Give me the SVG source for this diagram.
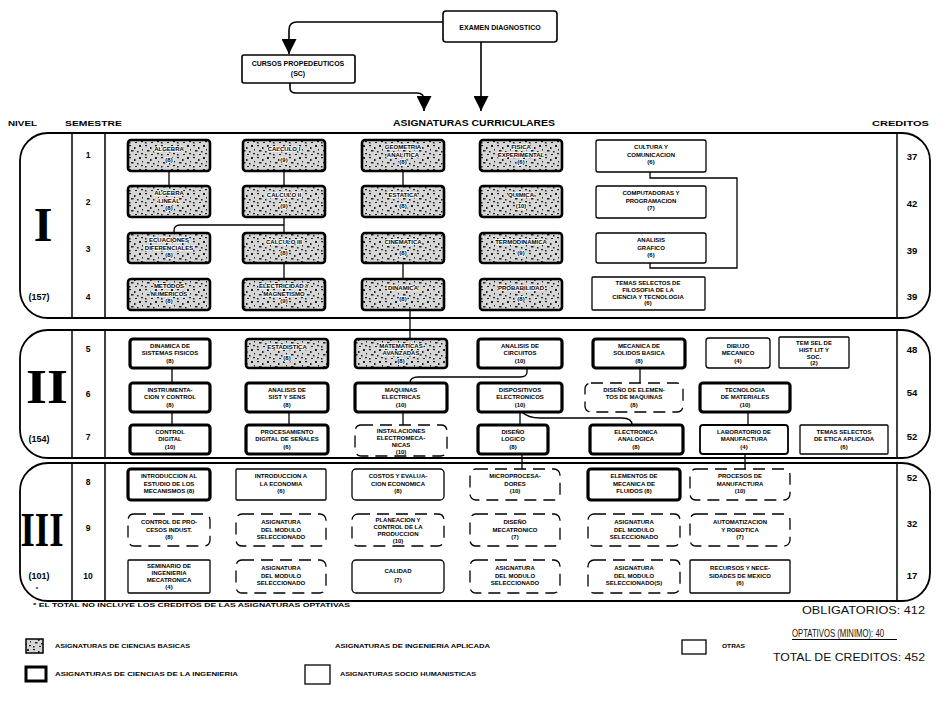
<svg xmlns="http://www.w3.org/2000/svg" width="938" height="701" viewBox="0 0 938 701">
<defs>
<style>
.t{font-family:"Liberation Sans",Arial,sans-serif;font-weight:bold;font-size:6px;fill:#000;text-anchor:middle}
.b .t{stroke:#fff;stroke-width:1.6px;paint-order:stroke;stroke-linejoin:round}
.h{font-family:"Liberation Sans",Arial,sans-serif;font-weight:bold;fill:#000}
.num{font-family:"Liberation Sans",Arial,sans-serif;font-weight:bold;font-size:8.5px;fill:#000;text-anchor:middle}
.rom{font-family:"Liberation Serif","Times New Roman",serif;font-weight:bold;font-size:48px;fill:#000;text-anchor:middle}
.tot{font-family:"Liberation Sans",Arial,sans-serif;font-size:11px;fill:#111}
.leg{font-family:"Liberation Sans",Arial,sans-serif;font-weight:bold;font-size:5.5px;fill:#000}
.basic{fill:url(#spk);stroke:#000;stroke-width:2.6}
.ing{fill:#fff;stroke:#000;stroke-width:3.2}
.apl{fill:#fff;stroke:#000;stroke-width:1.3;stroke-dasharray:12 7}
.otr{fill:#fff;stroke:#000;stroke-width:1.3}
.panel{fill:none;stroke:#000;stroke-width:1.8}
.div{stroke:#000;stroke-width:1.5}
.c{fill:none;stroke:#000;stroke-width:1.3}
</style>
<pattern id="spk" width="16" height="12" patternUnits="userSpaceOnUse">
<rect width="16" height="12" fill="#d6d6d6"/>
<g fill="#222">
<rect x="1" y="1" width="2" height="1.2"/>
<rect x="6" y="3" width="1.5" height="2"/>
<rect x="11" y="1" width="2" height="2"/>
<rect x="3" y="6" width="2.5" height="1.5"/>
<rect x="9" y="7" width="1.5" height="1.5"/>
<rect x="13" y="9" width="2" height="1.2"/>
<rect x="1" y="10" width="1.5" height="1.5"/>
<rect x="7" y="10" width="2" height="1"/>
<rect x="14" y="5" width="1" height="1.5"/>
</g>
</pattern>
<marker id="ah" viewBox="0 0 10 10" refX="10" refY="5" markerWidth="19" markerHeight="15" markerUnits="userSpaceOnUse" orient="auto">
<path d="M0,0 L10,5 L0,10 Z" fill="#000"/>
</marker>
</defs>
<rect width="938" height="701" fill="#fff"/>

<!-- header -->
<g id="examen-diagnostico">
<rect class="otr" x="443" y="11" width="114" height="31" rx="3" style="stroke-width:1.6"/>
<text class="t" x="500" y="29.5" style="font-size:7px">EXAMEN DIAGNOSTICO</text>
</g>
<g id="cursos-propedeuticos">
<rect class="otr" x="242" y="55" width="113" height="28" rx="2" style="stroke-width:1.6"/>
<text class="t" x="298" y="66" style="font-size:7px">CURSOS PROPEDEUTICOS<tspan x="298" dy="10">(SC)</tspan></text>
</g>
<text class="h" x="474" y="126" font-size="9" text-anchor="middle" textLength="162" lengthAdjust="spacingAndGlyphs">ASIGNATURAS CURRICULARES</text>
<text class="h" x="8" y="126" font-size="7.5" textLength="29" lengthAdjust="spacingAndGlyphs">NIVEL</text>
<text class="h" x="65" y="126" font-size="7.5" textLength="57" lengthAdjust="spacingAndGlyphs">SEMESTRE</text>
<text class="h" x="872" y="126" font-size="7.5" textLength="57" lengthAdjust="spacingAndGlyphs">CREDITOS</text>

<!-- panels -->
<g id="nivel-I">
<rect class="panel" x="20" y="133" width="910" height="185" rx="28"/>
<line class="div" x1="72" y1="133" x2="72" y2="318"/>
<line class="div" x1="105" y1="133" x2="105" y2="318"/>
<line class="div" x1="897" y1="133" x2="897" y2="318"/>
<text class="rom" x="43" y="241">I</text>
<text class="num" x="39" y="300" style="font-size:9px">(157)</text>
<text class="num" x="88" y="158">1</text><text class="num" x="88" y="205">2</text><text class="num" x="88" y="252">3</text><text class="num" x="88" y="300">4</text>
<text class="num" x="912" y="160" style="font-size:9.5px">37</text><text class="num" x="912" y="207" style="font-size:9.5px">42</text><text class="num" x="912" y="254" style="font-size:9.5px">39</text><text class="num" x="912" y="300" style="font-size:9.5px">39</text>
</g>
<g id="nivel-II">
<rect class="panel" x="20" y="330" width="910" height="128" rx="28"/>
<line class="div" x1="72" y1="330" x2="72" y2="458"/>
<line class="div" x1="105" y1="330" x2="105" y2="458"/>
<line class="div" x1="897" y1="330" x2="897" y2="458"/>
<text class="rom" x="47" y="403" textLength="42" lengthAdjust="spacingAndGlyphs">II</text>
<text class="num" x="39" y="442" style="font-size:9px">(154)</text>
<text class="num" x="88" y="352">5</text><text class="num" x="88" y="397">6</text><text class="num" x="88" y="440">7</text>
<text class="num" x="912" y="353" style="font-size:9.5px">48</text><text class="num" x="912" y="396" style="font-size:9.5px">54</text><text class="num" x="912" y="440" style="font-size:9.5px">52</text>
</g>
<g id="nivel-III">
<rect class="panel" x="20" y="463" width="910" height="138" rx="28"/>
<line class="div" x1="72" y1="463" x2="72" y2="601"/>
<line class="div" x1="105" y1="463" x2="105" y2="601"/>
<line class="div" x1="897" y1="463" x2="897" y2="601"/>
<text class="rom" x="42" y="546" textLength="43" lengthAdjust="spacingAndGlyphs">III</text>
<text class="num" x="39" y="579" style="font-size:9px">(101)</text>
<text class="num" x="37" y="591" style="font-size:6px">*</text>
<text class="num" x="88" y="485">8</text><text class="num" x="88" y="531">9</text><text class="num" x="88" y="579">10</text>
<text class="num" x="912" y="481" style="font-size:9.5px">52</text><text class="num" x="912" y="527" style="font-size:9.5px">32</text><text class="num" x="912" y="579" style="font-size:9.5px">17</text>
</g>

<!-- connectors -->
<g id="connectors">
<path class="c" d="M443,22 H297 Q289,22 289,30 V54" marker-end="url(#ah)" style="stroke-width:1.6"/>
<path class="c" d="M290,83 V88 Q290,93 296,93 H417 Q424,93 424,100 V111" marker-end="url(#ah)" style="stroke-width:1.6"/>
<path class="c" d="M481,42 V111" marker-end="url(#ah)" style="stroke-width:1.6"/>
<path class="c" d="M169,171 V186 M284,171 V186 M403,171 V186"/>
<path class="c" d="M284,217 V233 M284,225 H180 Q174,225 174,231 V233"/>
<path class="c" d="M284,263 V279 M403,263 V279"/>
<path class="c" d="M410,310 V339"/>
<path class="c" d="M650,172 V178 H737 V268 H650 V263"/>
<path class="c" d="M172,368 V383 M172,412 V425 M289,412 V425 M403,412 V425"/>
<path class="c" d="M527,368 V372 Q527,377 520,377 H418 Q410,377 410,383"/>
<path class="c" d="M640,368 V383"/>
<path class="c" d="M520,412 V425 M522,412 Q528,418 540,418 H622 Q632,418 632,425"/>
<path class="c" d="M748,412 V425"/>
<path class="c" d="M522,454 V469 M745,454 V469"/>
</g>

<!-- LEVEL I -->
<g id="algebra" class="b"><rect class="basic" x="128" y="140" width="82" height="31" rx="3"/><text class="t" x="169" y="151">ALGEBRA<tspan x="169" dy="11">(8)</tspan></text></g>
<g id="calculo-1" class="b"><rect class="basic" x="243" y="140" width="82" height="31" rx="3"/><text class="t" x="284" y="151">CALCULO I<tspan x="284" dy="11">(9)</tspan></text></g>
<g id="geometria" class="b"><rect class="basic" x="362" y="140" width="82" height="31" rx="3"/><text class="t" x="403" y="149">GEOMETRIA<tspan x="403" dy="7.5">ANALITICA</tspan><tspan x="403" dy="7.5">(8)</tspan></text></g>
<g id="fisica" class="b"><rect class="basic" x="480" y="140" width="82" height="31" rx="3"/><text class="t" x="521" y="149">FISICA<tspan x="521" dy="7.5">EXPERIMENTAL</tspan><tspan x="521" dy="7.5">(6)</tspan></text></g>
<g id="cultura"><rect class="otr" x="596" y="140" width="110" height="32" rx="2"/><text class="t" x="651" y="149">CULTURA Y<tspan x="651" dy="7.5">COMUNICACION</tspan><tspan x="651" dy="7.5">(6)</tspan></text></g>

<g id="algebra-lineal" class="b"><rect class="basic" x="128" y="186" width="82" height="31" rx="3"/><text class="t" x="169" y="195">ALGEBRA<tspan x="169" dy="7.5">LINEAL</tspan><tspan x="169" dy="7.5">(8)</tspan></text></g>
<g id="calculo-2" class="b"><rect class="basic" x="243" y="186" width="82" height="31" rx="3"/><text class="t" x="284" y="197">CALCULO II<tspan x="284" dy="11">(9)</tspan></text></g>
<g id="estatica" class="b"><rect class="basic" x="362" y="186" width="82" height="31" rx="3"/><text class="t" x="403" y="197">ESTATICA<tspan x="403" dy="11">(8)</tspan></text></g>
<g id="quimica" class="b"><rect class="basic" x="480" y="186" width="82" height="31" rx="3"/><text class="t" x="521" y="197">QUIMICA<tspan x="521" dy="11">(10)</tspan></text></g>
<g id="computadoras"><rect class="otr" x="596" y="186" width="110" height="32" rx="2"/><text class="t" x="651" y="195">COMPUTADORAS Y<tspan x="651" dy="7.5">PROGRAMACION</tspan><tspan x="651" dy="7.5">(7)</tspan></text></g>

<g id="ecuaciones" class="b"><rect class="basic" x="128" y="233" width="82" height="30" rx="3"/><text class="t" x="169" y="242">ECUACIONES<tspan x="169" dy="7.5">DIFERENCIALES</tspan><tspan x="169" dy="7.5">(8)</tspan></text></g>
<g id="calculo-3" class="b"><rect class="basic" x="243" y="233" width="82" height="30" rx="3"/><text class="t" x="284" y="244">CALCULO III<tspan x="284" dy="11">(8)</tspan></text></g>
<g id="cinematica" class="b"><rect class="basic" x="362" y="233" width="82" height="30" rx="3"/><text class="t" x="403" y="244">CINEMATICA<tspan x="403" dy="11">(8)</tspan></text></g>
<g id="termodinamica" class="b"><rect class="basic" x="480" y="233" width="82" height="30" rx="3"/><text class="t" x="521" y="244">TERMODINAMICA<tspan x="521" dy="11">(9)</tspan></text></g>
<g id="analisis-grafico"><rect class="otr" x="596" y="233" width="110" height="30" rx="2"/><text class="t" x="651" y="242">ANALISIS<tspan x="651" dy="7.5">GRAFICO</tspan><tspan x="651" dy="7.5">(6)</tspan></text></g>

<g id="metodos" class="b"><rect class="basic" x="128" y="279" width="82" height="31" rx="3"/><text class="t" x="169" y="288">METODOS<tspan x="169" dy="7.5">NUMERICOS</tspan><tspan x="169" dy="7.5">(8)</tspan></text></g>
<g id="electricidad" class="b"><rect class="basic" x="243" y="279" width="82" height="31" rx="3"/><text class="t" x="284" y="288">ELECTRICIDAD Y<tspan x="284" dy="7.5">MAGNETISMO</tspan><tspan x="284" dy="7.5">(9)</tspan></text></g>
<g id="dinamica" class="b"><rect class="basic" x="362" y="279" width="82" height="31" rx="3"/><text class="t" x="403" y="290">DINAMICA<tspan x="403" dy="11">(8)</tspan></text></g>
<g id="probabilidad" class="b"><rect class="basic" x="480" y="279" width="82" height="31" rx="3"/><text class="t" x="521" y="290">PROBABILIDAD<tspan x="521" dy="11">(8)</tspan></text></g>
<g id="temas-filosofia"><rect class="otr" x="592" y="277" width="113" height="33" rx="1"/><text class="t" x="648" y="285">TEMAS SELECTOS DE<tspan x="648" dy="6.8">FILOSOFIA DE LA</tspan><tspan x="648" dy="6.8">CIENCIA Y TECNOLOGIA</tspan><tspan x="648" dy="6.8">(6)</tspan></text></g>

<!-- LEVEL II -->
<g id="dinamica-sistemas"><rect class="ing" x="130" y="339" width="80" height="29" rx="3"/><text class="t" x="170" y="347.5">DINAMICA DE<tspan x="170" dy="7.5">SISTEMAS FISICOS</tspan><tspan x="170" dy="7.5">(8)</tspan></text></g>
<g id="estadistica" class="b"><rect class="basic" x="246" y="339" width="82" height="29" rx="3"/><text class="t" x="287" y="349">ESTADISTICA<tspan x="287" dy="11">(8)</tspan></text></g>
<g id="matematicas-avanzadas" class="b"><rect class="basic" x="355" y="339" width="92" height="29" rx="3"/><text class="t" x="401" y="347.5">MATEMATICAS<tspan x="401" dy="7.5">AVANZADAS</tspan><tspan x="401" dy="7.5">(8)</tspan></text></g>
<g id="analisis-circuitos"><rect class="ing" x="478" y="339" width="84" height="29" rx="3"/><text class="t" x="520" y="347.5">ANALISIS DE<tspan x="520" dy="7.5">CIRCUITOS</tspan><tspan x="520" dy="7.5">(10)</tspan></text></g>
<g id="mecanica-solidos"><rect class="ing" x="593" y="339" width="92" height="29" rx="3"/><text class="t" x="639" y="347.5">MECANICA DE<tspan x="639" dy="7.5">SOLIDOS BASICA</tspan><tspan x="639" dy="7.5">(8)</tspan></text></g>
<g id="dibujo-mecanico"><rect class="otr" x="706" y="338" width="64" height="30" rx="3"/><text class="t" x="738" y="347.5">DIBUJO<tspan x="738" dy="7.5">MECANICO</tspan><tspan x="738" dy="7.5">(4)</tspan></text></g>
<g id="tem-sel-hist"><rect class="otr" x="779" y="337" width="70" height="31" rx="1"/><text class="t" x="814" y="345">TEM SEL DE<tspan x="814" dy="6.8">HIST LIT Y</tspan><tspan x="814" dy="6.8">SOC.</tspan><tspan x="814" dy="6.8">(2)</tspan></text></g>

<g id="instrumentacion"><rect class="ing" x="130" y="383" width="80" height="29" rx="3"/><text class="t" x="170" y="391.5">INSTRUMENTA-<tspan x="170" dy="7.5">CION Y CONTROL</tspan><tspan x="170" dy="7.5">(8)</tspan></text></g>
<g id="analisis-sist"><rect class="ing" x="246" y="383" width="82" height="29" rx="3"/><text class="t" x="287" y="391.5">ANALISIS DE<tspan x="287" dy="7.5">SIST Y SENS</tspan><tspan x="287" dy="7.5">(8)</tspan></text></g>
<g id="maquinas-electricas"><rect class="ing" x="355" y="383" width="92" height="29" rx="3"/><text class="t" x="401" y="391.5">MAQUINAS<tspan x="401" dy="7.5">ELECTRICAS</tspan><tspan x="401" dy="7.5">(10)</tspan></text></g>
<g id="dispositivos"><rect class="ing" x="478" y="383" width="84" height="29" rx="3"/><text class="t" x="520" y="391.5">DISPOSITIVOS<tspan x="520" dy="7.5">ELECTRONICOS</tspan><tspan x="520" dy="7.5">(10)</tspan></text></g>
<g id="diseno-elementos"><rect class="apl" x="585" y="383" width="98" height="29" rx="6"/><text class="t" x="634" y="391.5">DISEÑO DE ELEMEN-<tspan x="634" dy="7.5">TOS DE MAQUINAS</tspan><tspan x="634" dy="7.5">(8)</tspan></text></g>
<g id="tecnologia-materiales"><rect class="ing" x="700" y="383" width="90" height="29" rx="3"/><text class="t" x="745" y="391.5">TECNOLOGIA<tspan x="745" dy="7.5">DE MATERIALES</tspan><tspan x="745" dy="7.5">(10)</tspan></text></g>

<g id="control-digital"><rect class="ing" x="130" y="425" width="80" height="29" rx="3"/><text class="t" x="170" y="433.5">CONTROL<tspan x="170" dy="7.5">DIGITAL</tspan><tspan x="170" dy="7.5">(10)</tspan></text></g>
<g id="procesamiento"><rect class="ing" x="246" y="425" width="82" height="29" rx="3"/><text class="t" x="287" y="433.5">PROCESAMIENTO<tspan x="287" dy="7.5">DIGITAL DE SEÑALES</tspan><tspan x="287" dy="7.5">(6)</tspan></text></g>
<g id="instalaciones"><rect class="apl" x="355" y="425" width="92" height="31" rx="6"/><text class="t" x="401" y="432.5">INSTALACIONES<tspan x="401" dy="7">ELECTROMECA-</tspan><tspan x="401" dy="7">NICAS</tspan><tspan x="401" dy="7">(10)</tspan></text></g>
<g id="diseno-logico"><rect class="ing" x="478" y="425" width="70" height="29" rx="3"/><text class="t" x="513" y="433.5">DISEÑO<tspan x="513" dy="7.5">LOGICO</tspan><tspan x="513" dy="7.5">(8)</tspan></text></g>
<g id="electronica-analogica"><rect class="ing" x="590" y="425" width="93" height="29" rx="3"/><text class="t" x="636" y="433.5">ELECTRONICA<tspan x="636" dy="7.5">ANALOGICA</tspan><tspan x="636" dy="7.5">(8)</tspan></text></g>
<g id="laboratorio-manufactura"><rect class="otr" x="700" y="425" width="88" height="29" rx="3" style="stroke-width:1.8"/><text class="t" x="744" y="433.5">LABORATORIO DE<tspan x="744" dy="7.5">MANUFACTURA</tspan><tspan x="744" dy="7.5">(4)</tspan></text></g>
<g id="temas-etica"><rect class="otr" x="800" y="425" width="88" height="29" rx="1"/><text class="t" x="844" y="433.5">TEMAS SELECTOS<tspan x="844" dy="7.5">DE ETICA APLICADA</tspan><tspan x="844" dy="7.5">(6)</tspan></text></g>

<!-- LEVEL III -->
<g id="intro-mecanismos"><rect class="ing" x="128" y="469" width="82" height="31" rx="3"/><text class="t" x="169" y="478">INTRODUCCION AL<tspan x="169" dy="7.5">ESTUDIO DE LOS</tspan><tspan x="169" dy="7.5">MECANISMOS   (8)</tspan></text></g>
<g id="intro-economia"><rect class="otr" x="236" y="469" width="90" height="31" rx="1"/><text class="t" x="281" y="478">INTRODUCCION A<tspan x="281" dy="7.5">LA ECONOMIA</tspan><tspan x="281" dy="7.5">(6)</tspan></text></g>
<g id="costos"><rect class="otr" x="352" y="469" width="92" height="31" rx="4"/><text class="t" x="398" y="478">COSTOS Y EVALUA-<tspan x="398" dy="7.5">CION ECONOMICA</tspan><tspan x="398" dy="7.5">(8)</tspan></text></g>
<g id="microprocesadores"><rect class="apl" x="470" y="469" width="90" height="31" rx="6"/><text class="t" x="515" y="478">MICROPROCESA-<tspan x="515" dy="7.5">DORES</tspan><tspan x="515" dy="7.5">(10)</tspan></text></g>
<g id="mecanica-fluidos"><rect class="ing" x="588" y="469" width="92" height="31" rx="3"/><text class="t" x="634" y="478">ELEMENTOS DE<tspan x="634" dy="7.5">MECANICA DE</tspan><tspan x="634" dy="7.5">FLUIDOS    (8)</tspan></text></g>
<g id="procesos-manufactura"><rect class="apl" x="690" y="469" width="100" height="31" rx="6"/><text class="t" x="740" y="478">PROCESOS DE<tspan x="740" dy="7.5">MANUFACTURA</tspan><tspan x="740" dy="7.5">(10)</tspan></text></g>

<g id="control-procesos"><rect class="apl" x="128" y="514" width="82" height="32" rx="6"/><text class="t" x="169" y="524">CONTROL DE PRO-<tspan x="169" dy="7.5">CESOS INDUST.</tspan><tspan x="169" dy="7.5">(8)</tspan></text></g>
<g id="modulo-9a"><rect class="apl" x="236" y="514" width="90" height="32" rx="6"/><text class="t" x="281" y="524">ASIGNATURA<tspan x="281" dy="7.5">DEL MODULO</tspan><tspan x="281" dy="7.5">SELECCIONADO</tspan></text></g>
<g id="planeacion"><rect class="apl" x="352" y="514" width="92" height="32" rx="6"/><text class="t" x="398" y="522">PLANEACION Y<tspan x="398" dy="7">CONTROL DE LA</tspan><tspan x="398" dy="7">PRODUCCION</tspan><tspan x="398" dy="7">(10)</tspan></text></g>
<g id="diseno-mecatronico"><rect class="apl" x="470" y="514" width="90" height="32" rx="6"/><text class="t" x="515" y="524">DISEÑO<tspan x="515" dy="7.5">MECATRONICO</tspan><tspan x="515" dy="7.5">(7)</tspan></text></g>
<g id="modulo-9b"><rect class="apl" x="588" y="514" width="92" height="32" rx="6"/><text class="t" x="634" y="524">ASIGNATURA<tspan x="634" dy="7.5">DEL MODULO</tspan><tspan x="634" dy="7.5">SELECCIONADO</tspan></text></g>
<g id="automatizacion"><rect class="apl" x="690" y="514" width="100" height="32" rx="6"/><text class="t" x="740" y="524">AUTOMATIZACION<tspan x="740" dy="7.5">Y ROBOTICA</tspan><tspan x="740" dy="7.5">(7)</tspan></text></g>

<g id="seminario"><rect class="otr" x="128" y="560" width="82" height="33" rx="1"/><text class="t" x="169" y="568">SEMINARIO DE<tspan x="169" dy="7">INGENIERIA</tspan><tspan x="169" dy="7">MECATRONICA</tspan><tspan x="169" dy="7">(4)</tspan></text></g>
<g id="modulo-10a"><rect class="apl" x="236" y="560" width="90" height="33" rx="6"/><text class="t" x="281" y="570">ASIGNATURA<tspan x="281" dy="7.5">DEL MODULO</tspan><tspan x="281" dy="7.5">SELECCIONADO</tspan></text></g>
<g id="calidad"><rect class="otr" x="352" y="560" width="92" height="33" rx="4"/><text class="t" x="398" y="573">CALIDAD<tspan x="398" dy="9">(7)</tspan></text></g>
<g id="modulo-10b"><rect class="apl" x="470" y="560" width="90" height="33" rx="6"/><text class="t" x="515" y="570">ASIGNATURA<tspan x="515" dy="7.5">DEL MODULO</tspan><tspan x="515" dy="7.5">SELECCIONADO</tspan></text></g>
<g id="modulo-10c"><rect class="apl" x="588" y="560" width="92" height="33" rx="6"/><text class="t" x="634" y="570">ASIGNATURA<tspan x="634" dy="7.5">DEL MODULO</tspan><tspan x="634" dy="7.5">SELECCIONADO(S)</tspan></text></g>
<g id="recursos-mexico"><rect class="otr" x="690" y="560" width="100" height="33" rx="1"/><text class="t" x="740" y="570">RECURSOS Y NECE-<tspan x="740" dy="7.5">SIDADES DE MEXICO</tspan><tspan x="740" dy="7.5">(6)</tspan></text></g>

<!-- footer -->
<text class="leg" x="33" y="607" textLength="317" lengthAdjust="spacingAndGlyphs">* EL TOTAL NO INCLUYE LOS CREDITOS DE LAS ASIGNATURAS OPTATIVAS</text>
<text class="tot" x="802" y="614" textLength="123" lengthAdjust="spacingAndGlyphs">OBLIGATORIOS: 412</text>
<text class="tot" x="792" y="637" textLength="92" lengthAdjust="spacingAndGlyphs">OPTATIVOS (MINIMO): 40</text>
<line x1="792" y1="639.5" x2="897" y2="639.5" stroke="#000" stroke-width="1.2"/>
<text class="tot" x="773" y="661" textLength="152" lengthAdjust="spacingAndGlyphs">TOTAL DE CREDITOS: 452</text>

<g id="legend">
<rect x="26" y="639" width="17" height="14" fill="url(#spk)" stroke="#000" stroke-width="1.5"/>
<text class="leg" x="55" y="648" textLength="135" lengthAdjust="spacingAndGlyphs">ASIGNATURAS DE CIENCIAS BASICAS</text>
<text class="leg" x="335" y="648" textLength="155" lengthAdjust="spacingAndGlyphs">ASIGNATURAS DE INGENIERIA APLICADA</text>
<rect x="682" y="640" width="24" height="14" fill="#fff" stroke="#000" stroke-width="1.3"/>
<text class="leg" x="722" y="648" textLength="23" lengthAdjust="spacingAndGlyphs">OTRAS</text>
<rect x="26" y="667" width="20" height="14" fill="#fff" stroke="#000" stroke-width="3"/>
<text class="leg" x="55" y="676" textLength="183" lengthAdjust="spacingAndGlyphs">ASIGNATURAS DE CIENCIAS DE LA INGENIERIA</text>
<rect x="305" y="665" width="25" height="19" fill="#fff" stroke="#000" stroke-width="1.3"/>
<text class="leg" x="340" y="676" textLength="136" lengthAdjust="spacingAndGlyphs">ASIGNATURAS SOCIO HUMANISTICAS</text>
</g>
</svg>
